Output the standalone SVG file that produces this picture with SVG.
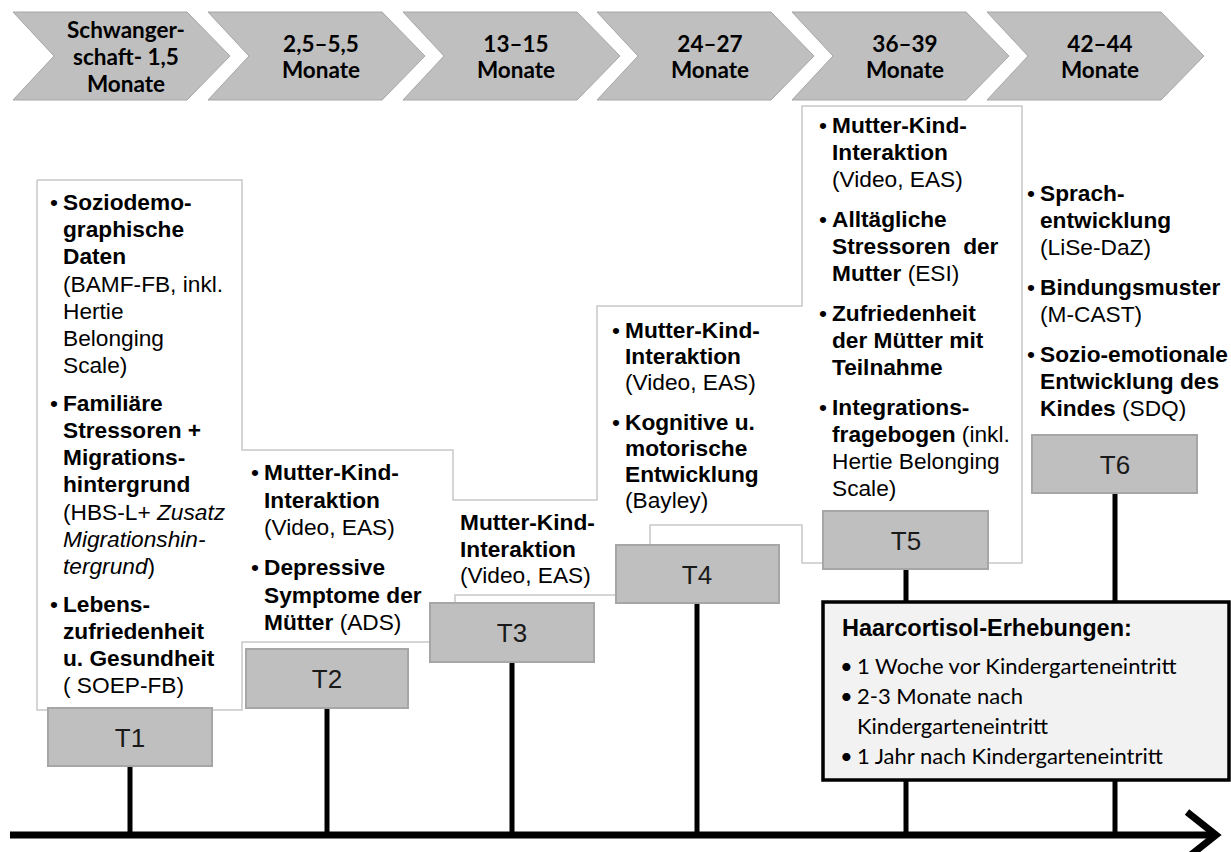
<svg xmlns="http://www.w3.org/2000/svg" width="1231" height="852" viewBox="0 0 1231 852">
<style>
.chev{fill:#bfbfbf;stroke:#a6a6a6;stroke-width:1}
.ct{font-family:Lato,"Liberation Sans",sans-serif;font-weight:bold;font-size:22.5px;fill:#000;text-anchor:middle}
.frame{fill:none;stroke:#c8c8c8;stroke-width:1.5}
.t{font-family:"Liberation Sans",Arial,sans-serif;font-size:22.7px;fill:#000}
.b{font-weight:bold}
.i{font-style:italic}
.tbox{fill:#bfbfbf;stroke:#a6a6a6;stroke-width:2}
.tl{font-family:"Liberation Sans",Arial,sans-serif;font-size:26px;fill:#1a1a1a;text-anchor:middle}
.conn{stroke:#000;stroke-width:5;fill:none}
.hc{font-family:Lato,"Liberation Sans",sans-serif;font-size:22px;fill:#000}
</style>
<rect width="1231" height="852" fill="#fff"/>

<g id="timeline-header">
<g id="chev1"><polygon class="chev" points="13,12 187,12 230,56 187,100 13,100 54,56"/>
<text class="ct" x="126" y="38">Schwanger-</text><text class="ct" x="126" y="65">schaft- 1,5</text><text class="ct" x="126" y="92">Monate</text></g>
<g id="chev2"><polygon class="chev" points="208,12 382,12 425,56 382,100 208,100 249,56"/>
<text class="ct" x="321" y="52">2,5–5,5</text><text class="ct" x="321" y="78">Monate</text></g>
<g id="chev3"><polygon class="chev" points="403,12 577,12 620,56 577,100 403,100 444,56"/>
<text class="ct" x="516" y="52">13–15</text><text class="ct" x="516" y="78">Monate</text></g>
<g id="chev4"><polygon class="chev" points="597,12 771,12 814,56 771,100 597,100 638,56"/>
<text class="ct" x="710" y="52">24–27</text><text class="ct" x="710" y="78">Monate</text></g>
<g id="chev5"><polygon class="chev" points="792,12 966,12 1009,56 966,100 792,100 833,56"/>
<text class="ct" x="905" y="52">36–39</text><text class="ct" x="905" y="78">Monate</text></g>
<g id="chev6"><polygon class="chev" points="987,12 1161,12 1204,56 1161,100 987,100 1028,56"/>
<text class="ct" x="1100" y="52">42–44</text><text class="ct" x="1100" y="78">Monate</text></g>
</g>

<g id="text-frames">
<path class="frame" d="M37,180 H242 V450 H453 V500 H597 V306 H802 V106 H1022 V563 H988"/>
<path class="frame" d="M37,180 V710 H48"/>
<path class="frame" d="M212,710 H242 V642 H430"/>
<path class="frame" d="M455,603 V595 H616"/>
<path class="frame" d="M823,563 H802 V525 H650 V545"/>
</g>

<g id="text-T1">
<text class="t" x="50" y="210">•</text>
<text class="t b" x="63" y="210">Soziodemo-</text>
<text class="t b" x="63" y="237">graphische</text>
<text class="t b" x="63" y="264">Daten</text>
<text class="t" x="63" y="291.5">(BAMF-FB, inkl.</text>
<text class="t" x="63" y="318.5">Hertie</text>
<text class="t" x="63" y="346">Belonging</text>
<text class="t" x="63" y="373">Scale)</text>
<text class="t" x="50" y="410.5">•</text>
<text class="t b" x="63" y="410.5">Familiäre</text>
<text class="t b" x="63" y="438">Stressoren +</text>
<text class="t b" x="63" y="465">Migrations-</text>
<text class="t b" x="63" y="492">hintergrund</text>
<text class="t" x="63" y="519.5">(HBS-L+ <tspan class="i">Zusatz</tspan></text>
<text class="t i" x="63" y="546.5">Migrationshin-</text>
<text class="t" x="63" y="574"><tspan class="i">tergrund</tspan>)</text>
<text class="t" x="50" y="611.5">•</text>
<text class="t b" x="63" y="611.5">Lebens-</text>
<text class="t b" x="63" y="638.5">zufriedenheit</text>
<text class="t b" x="63" y="666">u. Gesundheit</text>
<text class="t" x="63" y="693">( SOEP-FB)</text>
</g>

<g id="text-T2">
<text class="t" x="251" y="480">•</text>
<text class="t b" x="264" y="480">Mutter-Kind-</text>
<text class="t b" x="264" y="507.5">Interaktion</text>
<text class="t" x="264" y="535">(Video, EAS)</text>
<text class="t" x="251" y="575">•</text>
<text class="t b" x="264" y="575">Depressive</text>
<text class="t b" x="264" y="602.5">Symptome der</text>
<text class="t" x="264" y="630"><tspan class="b">Mütter</tspan> (ADS)</text>
</g>

<g id="text-T3">
<text class="t b" x="460" y="530">Mutter-Kind-</text>
<text class="t b" x="460" y="556.5">Interaktion</text>
<text class="t" x="460" y="583">(Video, EAS)</text>
</g>

<g id="text-T4">
<text class="t" x="612" y="338">•</text>
<text class="t b" x="625" y="338">Mutter-Kind-</text>
<text class="t b" x="625" y="364">Interaktion</text>
<text class="t" x="625" y="390">(Video, EAS)</text>
<text class="t" x="612" y="430">•</text>
<text class="t b" x="625" y="430">Kognitive u.</text>
<text class="t b" x="625" y="456">motorische</text>
<text class="t b" x="625" y="482">Entwicklung</text>
<text class="t" x="625" y="508">(Bayley)</text>
</g>

<g id="text-T5">
<text class="t" x="819" y="133">•</text>
<text class="t b" x="832" y="133">Mutter-Kind-</text>
<text class="t b" x="832" y="160">Interaktion</text>
<text class="t" x="832" y="187">(Video, EAS)</text>
<text class="t" x="819" y="227">•</text>
<text class="t b" x="832" y="227">Alltägliche</text>
<text class="t b" x="832" y="254" xml:space="preserve">Stressoren  der</text>
<text class="t" x="832" y="281"><tspan class="b">Mutter</tspan> (ESI)</text>
<text class="t" x="819" y="321">•</text>
<text class="t b" x="832" y="321">Zufriedenheit</text>
<text class="t b" x="832" y="348">der Mütter mit</text>
<text class="t b" x="832" y="375">Teilnahme</text>
<text class="t" x="819" y="415">•</text>
<text class="t b" x="832" y="415">Integrations-</text>
<text class="t" x="832" y="442"><tspan class="b">fragebogen</tspan> (inkl.</text>
<text class="t" x="832" y="469">Hertie Belonging</text>
<text class="t" x="832" y="496">Scale)</text>
</g>

<g id="text-T6">
<text class="t" x="1027" y="201">•</text>
<text class="t b" x="1040" y="201">Sprach-</text>
<text class="t b" x="1040" y="228">entwicklung</text>
<text class="t" x="1040" y="255">(LiSe-DaZ)</text>
<text class="t" x="1027" y="295">•</text>
<text class="t b" x="1040" y="295">Bindungsmuster</text>
<text class="t" x="1040" y="322">(M-CAST)</text>
<text class="t" x="1027" y="362">•</text>
<text class="t b" x="1040" y="362">Sozio-emotionale</text>
<text class="t b" x="1040" y="389">Entwicklung des</text>
<text class="t" x="1040" y="416"><tspan class="b">Kindes</tspan> (SDQ)</text>
</g>

<g id="connectors">
<line class="conn" x1="130" y1="766" x2="130" y2="835"/>
<line class="conn" x1="327" y1="708" x2="327" y2="835"/>
<line class="conn" x1="512" y1="662" x2="512" y2="835"/>
<line class="conn" x1="697" y1="603" x2="697" y2="835"/>
<line class="conn" x1="906" y1="569" x2="906" y2="835"/>
<line class="conn" x1="1115" y1="493" x2="1115" y2="835"/>
<line x1="10" y1="835" x2="1212" y2="835" stroke="#000" stroke-width="7"/>
<polyline points="1187,812 1216,835 1187,858" fill="none" stroke="#000" stroke-width="7"/>
</g>

<g id="T1"><rect class="tbox" x="48" y="708" width="164" height="58"/><text class="tl" x="130" y="747">T1</text></g>
<g id="T2"><rect class="tbox" x="246" y="649" width="162" height="59"/><text class="tl" x="327" y="688">T2</text></g>
<g id="T3"><rect class="tbox" x="430" y="603" width="164" height="59"/><text class="tl" x="512" y="642">T3</text></g>
<g id="T4"><rect class="tbox" x="616" y="545" width="163" height="58"/><text class="tl" x="697" y="584">T4</text></g>
<g id="T5"><rect class="tbox" x="823" y="511" width="165" height="58"/><text class="tl" x="906" y="550">T5</text></g>
<g id="T6"><rect class="tbox" x="1032" y="435" width="165" height="58"/><text class="tl" x="1115" y="474">T6</text></g>

<g id="haarcortisol">
<rect x="823" y="602" width="406" height="178" fill="#f2f2f2" stroke="#000" stroke-width="3.5"/>
<text class="t b" x="842" y="636" style="font-size:23.5px">Haarcortisol-Erhebungen:</text>
<text class="hc" x="840" y="674">•</text>
<text class="hc" x="857" y="674">1 Woche vor Kindergarteneintritt</text>
<text class="hc" x="840" y="704">•</text>
<text class="hc" x="857" y="704">2-3 Monate nach</text>
<text class="hc" x="857" y="734">Kindergarteneintritt</text>
<text class="hc" x="840" y="764">•</text>
<text class="hc" x="857" y="764">1 Jahr nach Kindergarteneintritt</text>
</g>
</svg>
